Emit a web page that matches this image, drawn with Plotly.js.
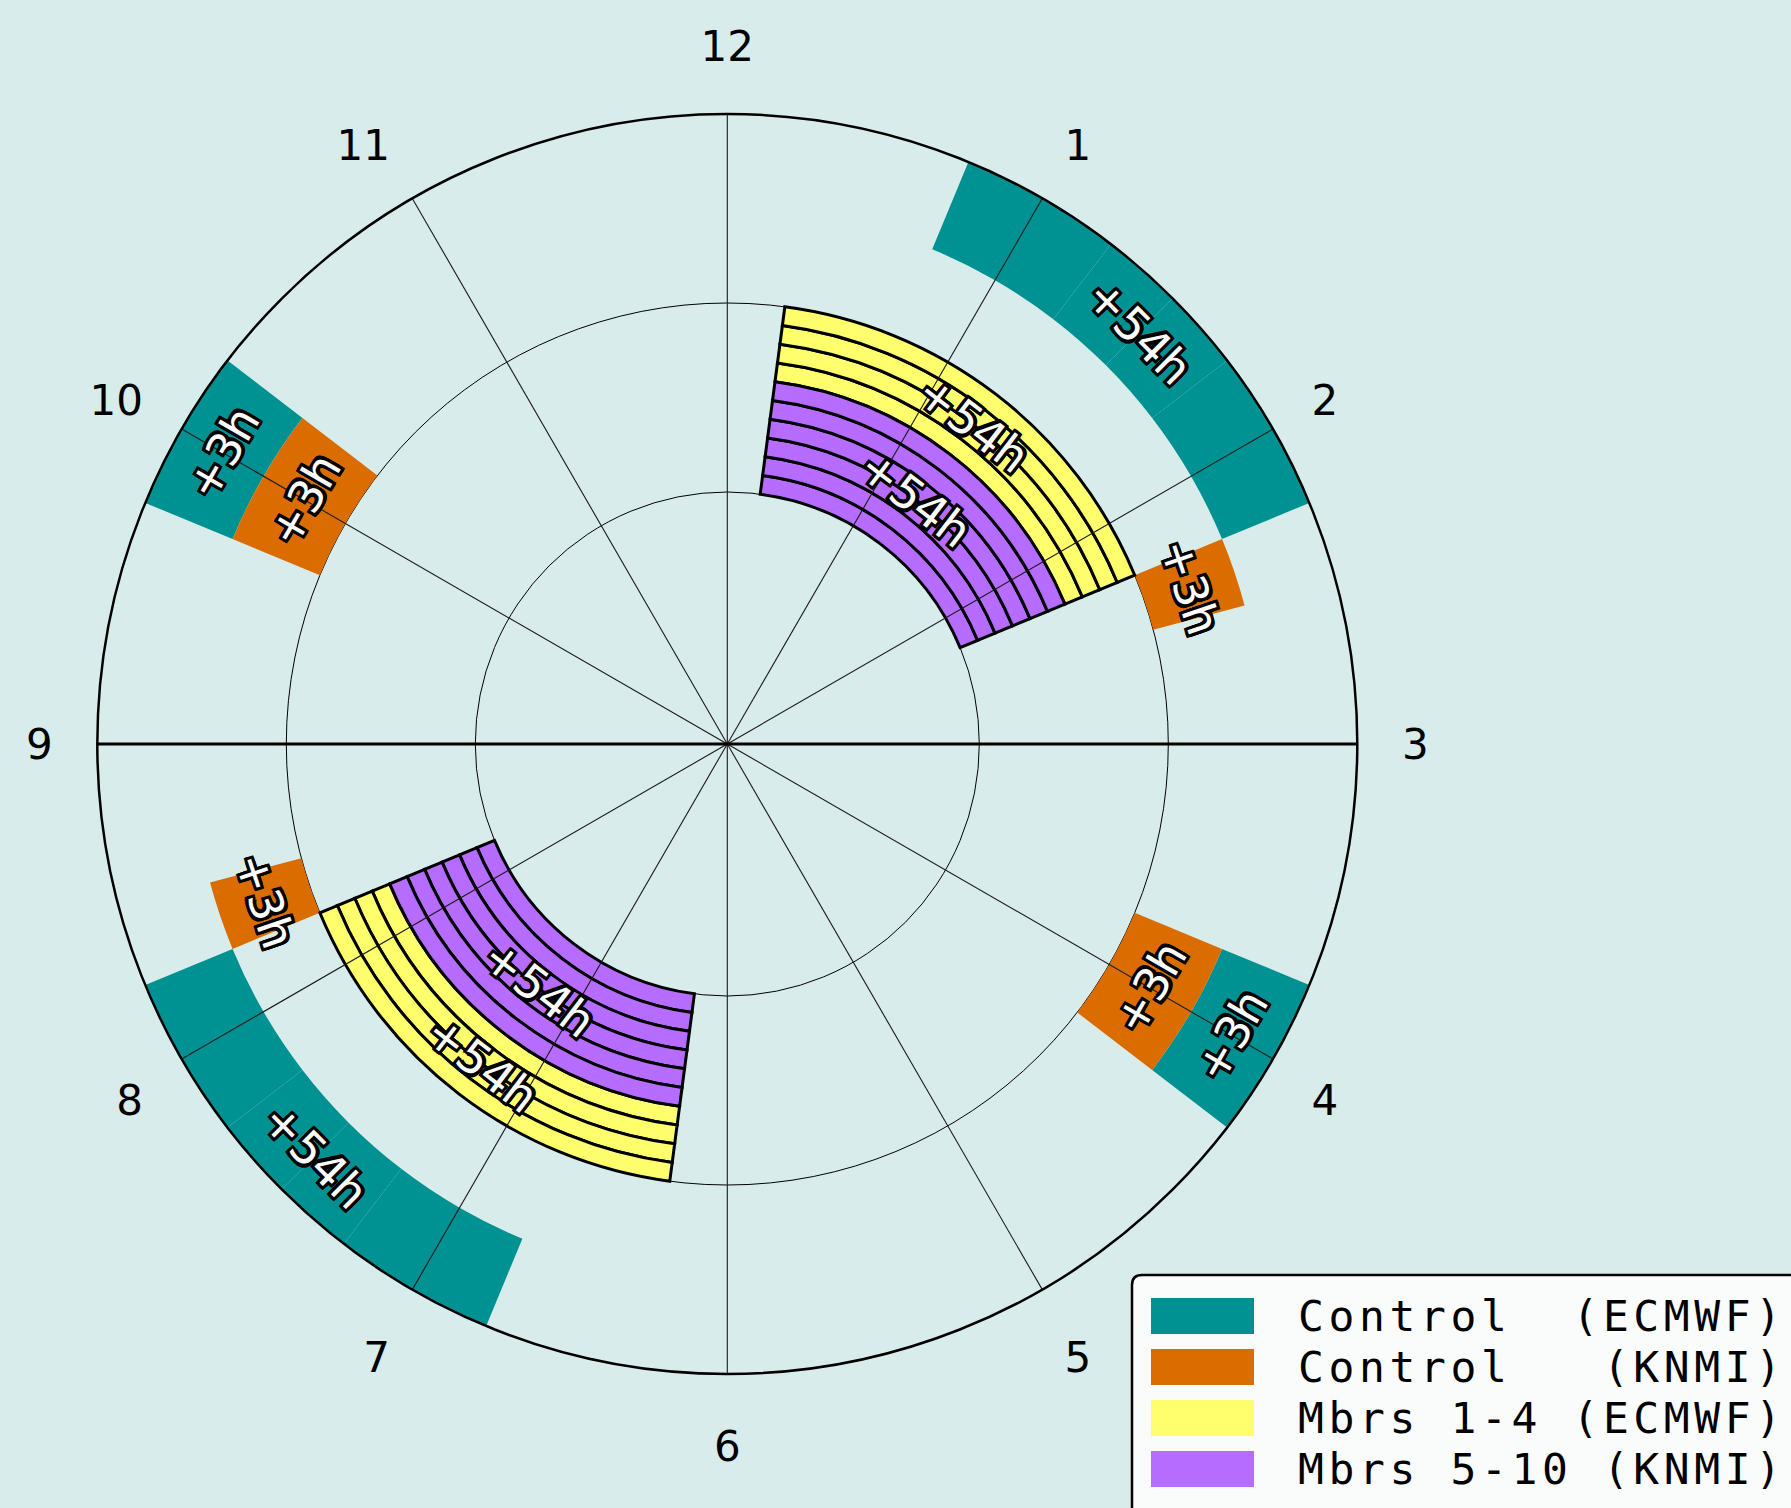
<!DOCTYPE html>
<html><head><meta charset="utf-8">
<script src="https://cdn.plot.ly/plotly-3.0.1.min.js"></script>
<style>html,body{margin:0;padding:0;background:#d9ecec;} #chart{width:1791px;height:1508px;}</style>
</head><body><div id="chart"></div>
<script>
// ---------- data ----------
const hourTickLabels = ['12','1','2','3','4','5','6','7','8','9','10','11'];
const hourTickPos = [0,1,2,3,4,5,6,7,8,9,10,11];

const seriesNames = ['Control\u00A0\u00A0(ECMWF)', 'Control\u00A0\u00A0\u00A0(KNMI)', 'Mbrs\u00A01-4\u00A0(ECMWF)', 'Mbrs\u00A05-10\u00A0(KNMI)'];
const seriesColors = ['#009292', '#db6d00', '#ffff6d', '#b66dff'];

// Control (ECMWF): 15-minute slots (start hour on the clock)
const ctrlEcmwfStart = [0.75, 1.0, 1.25, 1.5, 1.75, 2.0, 3.75, 4.0, 6.75, 7.0, 7.25, 7.5, 7.75, 8.0, 9.75, 10.0];
const ctrlEcmwfDur = 0.25;
const ctrlEcmwfBase = 0.85, ctrlEcmwfThick = 0.15;
const ctrlEcmwfLabelHour = [1.5, 4.0, 7.5, 10.0];
const ctrlEcmwfLabelText = ['+54h', '+3h', '+54h', '+3h'];

// Control (KNMI)
const ctrlKnmiStart = [2.25, 3.75, 4.0, 8.25, 9.75, 10.0];
const ctrlKnmiDur = 0.25;
const ctrlKnmiBase = 0.70, ctrlKnmiThick = 0.15;
const ctrlKnmiLabelHour = [2.375, 4.0, 8.375, 10.0];
const ctrlKnmiLabelText = ['+3h', '+3h', '+3h', '+3h'];

// Members 1-4 (ECMWF)
const mbrsEcmwfStart = [0.25, 6.25];
const mbrsEcmwfDur = 2.0;
const mbrsEcmwfRings = [0.58, 0.61, 0.64, 0.67];
const mbrsEcmwfLabelHour = [1.25, 7.25];
const mbrsEcmwfLabelText = ['+54h', '+54h'];

// Members 5-10 (KNMI)
const mbrsKnmiStart = [0.25, 6.25];
const mbrsKnmiDur = 2.0;
const mbrsKnmiRings = [0.40, 0.43, 0.46, 0.49, 0.52, 0.55];
const mbrsKnmiLabelHour = [1.25, 7.25];
const mbrsKnmiLabelText = ['+54h', '+54h'];
const ringThick = 0.03;

const radialGrid = [0.4, 0.7];

// ---------- layout constants ----------
const W = 1791, H = 1508;
const BG = '#d9ecec';
const CX = 727.3, CY = 744, R = 630;   // polar centre/radius in px
const dom = {x: [(CX - R) / W, (CX + R) / W], y: [(H - CY - R) / H, (H - CY + R) / H]};
const DEG = 30; // degrees per clock hour

function ctrlTrace(starts, dur, base, thick, color, name) {
  return {
    type: 'barpolar', name: name,
    theta: starts.map(s => (s + dur / 2) * DEG),
    width: starts.map(() => dur * DEG),
    base: starts.map(() => base),
    r: starts.map(() => thick),
    marker: {color: color, line: {width: 0}},
    showlegend: false, hoverinfo: 'skip'
  };
}
function mbrsTrace(starts, dur, rings, color, name) {
  const th = [], w = [], b = [], r = [];
  starts.forEach(s => rings.forEach(rb => {
    th.push((s + dur / 2) * DEG); w.push(dur * DEG); b.push(rb); r.push(ringThick);
  }));
  return {
    type: 'barpolar', name: name, theta: th, width: w, base: b, r: r,
    marker: {color: color, line: {width: 3, color: '#000'}},
    showlegend: false, hoverinfo: 'skip'
  };
}

const traces = [
  ctrlTrace(ctrlEcmwfStart, ctrlEcmwfDur, ctrlEcmwfBase, ctrlEcmwfThick, seriesColors[0], seriesNames[0]),
  ctrlTrace(ctrlKnmiStart, ctrlKnmiDur, ctrlKnmiBase, ctrlKnmiThick, seriesColors[1], seriesNames[1]),
  mbrsTrace(mbrsEcmwfStart, mbrsEcmwfDur, mbrsEcmwfRings, seriesColors[2], seriesNames[2]),
  mbrsTrace(mbrsKnmiStart, mbrsKnmiDur, mbrsKnmiRings, seriesColors[3], seriesNames[3])
];

// hour spokes drawn over the bars
const spokeR = [], spokeT = [];
hourTickPos.forEach(h => { spokeR.push(0, 1, null); spokeT.push(h * DEG, h * DEG, null); });
traces.push({type: 'scatterpolar', mode: 'lines', r: spokeR, theta: spokeT,
  line: {color: '#1a1a1a', width: 1.1}, showlegend: false, hoverinfo: 'skip', connectgaps: false});
// 9 - 3 axis line
traces.push({type: 'scatterpolar', mode: 'lines', r: [1, 0, 1], theta: [270, 0, 90],
  line: {color: '#000', width: 3}, showlegend: false, hoverinfo: 'skip'});

// ---------- labels ----------
const o = 3;
const outline = [[-o,-o],[o,-o],[-o,o],[o,o],[0,o],[0,-o],[o,0],[-o,0],[-2,-3],[2,3],[3,-2],[-3,2]]
  .map(p => `${p[0]}px ${p[1]}px 0 #000`).join(', ');
const annotations = [];
function addLabels(hours, texts, rad) {
  hours.forEach((h, i) => {
    const t = h * DEG * Math.PI / 180;
    let a = (h * DEG) % 180; if (a > 90) a -= 180;
    annotations.push({
      xref: 'paper', yref: 'paper',
      x: (CX + rad * R * Math.sin(t)) / W,
      y: (H - CY + rad * R * Math.cos(t)) / H,
      text: texts[i], showarrow: false, textangle: a,
      xanchor: 'center', yanchor: 'middle',
      font: {family: 'DejaVu Sans', size: 46, color: '#fff', shadow: outline}
    });
  });
}
addLabels(ctrlEcmwfLabelHour, ctrlEcmwfLabelText, ctrlEcmwfBase + ctrlEcmwfThick / 2);
addLabels(ctrlKnmiLabelHour, ctrlKnmiLabelText, ctrlKnmiBase + ctrlKnmiThick / 2);
addLabels(mbrsEcmwfLabelHour, mbrsEcmwfLabelText, mbrsEcmwfRings[0] + mbrsEcmwfRings.length * ringThick / 2);
addLabels(mbrsKnmiLabelHour, mbrsKnmiLabelText, mbrsKnmiRings[0] + mbrsKnmiRings.length * ringThick / 2);

// ---------- legend (drawn as shapes + text) ----------
const px = x => x / W, py = y => 1 - y / H;
const LG = {left: 1132, top: 1275, rowY0: 1316, rowDy: 51, swL: 1151, swR: 1254, swH: 36, textX: 1296};
const shapes = [{
  type: 'path', xref: 'paper', yref: 'paper',
  path: `M ${px(LG.left)},${py(H + 20)} L ${px(LG.left)},${py(LG.top + 10)} Q ${px(LG.left)},${py(LG.top)} ${px(LG.left + 10)},${py(LG.top)} L ${px(W + 20)},${py(LG.top)} L ${px(W + 20)},${py(H + 20)} Z`,
  fillcolor: 'rgba(255,255,255,0.85)', line: {color: '#000', width: 2.5}
}];
seriesNames.forEach((n, i) => {
  const yc = LG.rowY0 + i * LG.rowDy;
  shapes.push({type: 'rect', xref: 'paper', yref: 'paper',
    x0: px(LG.swL), x1: px(LG.swR), y0: py(yc - LG.swH / 2), y1: py(yc + LG.swH / 2),
    fillcolor: seriesColors[i], line: {width: 0}});
  annotations.push({xref: 'paper', yref: 'paper', x: px(LG.textX), y: py(yc),
    xanchor: 'left', yanchor: 'middle', showarrow: false,
    text: `<span style="letter-spacing:4.6px">${n}</span>`,
    font: {family: 'DejaVu Sans Mono', size: 43, color: '#000'}});
});

const layout = {
  width: W, height: H,
  margin: {l: 0, r: 0, t: 0, b: 0, pad: 0},
  paper_bgcolor: BG,
  showlegend: false,
  polar: {
    domain: dom,
    bgcolor: BG,
    bargap: 0,
    radialaxis: {range: [0, 1], tickmode: 'array', tickvals: radialGrid, showticklabels: false,
      ticks: '', showline: false, gridcolor: '#000', gridwidth: 1},
    angularaxis: {rotation: 90, direction: 'clockwise', tickmode: 'array',
      tickvals: hourTickPos.map(h => h * DEG), ticktext: hourTickLabels,
      showgrid: false, showline: true, linecolor: '#000', linewidth: 2.5,
      ticks: 'outside', ticklen: 35, tickcolor: 'rgba(0,0,0,0)',
      tickfont: {family: 'DejaVu Sans', size: 42, color: '#000'}}
  },
  shapes: shapes,
  annotations: annotations
};

Plotly.newPlot('chart', traces, layout, {displayModeBar: false, staticPlot: true});
</script></body></html>
